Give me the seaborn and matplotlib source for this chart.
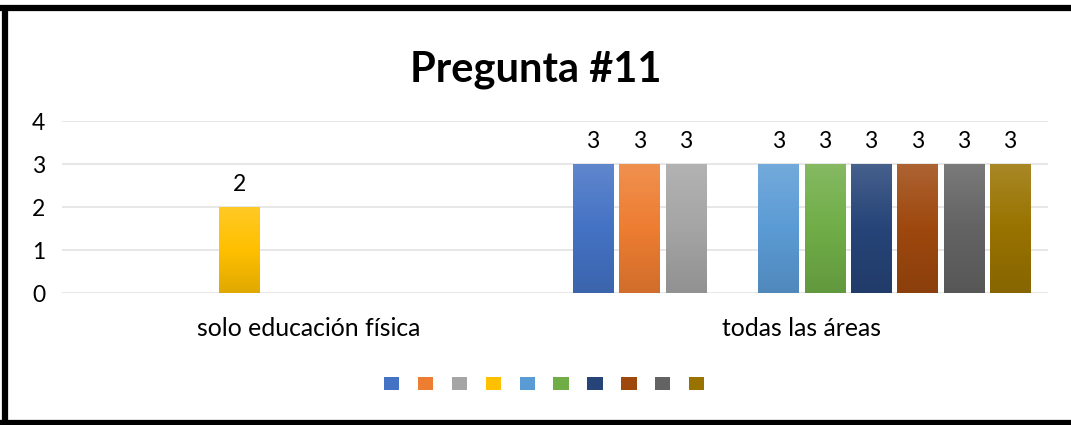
import matplotlib.pyplot as plt
import matplotlib.colors as mcolors
import numpy as np
import pandas as pd
import seaborn as sns
from matplotlib.lines import Line2D
from matplotlib.patches import Rectangle

# Datos del gráfico
categorias = ["solo educación física", "todas las áreas"]
series = ["Serie 1", "Serie 2", "Serie 3", "Serie 4", "Serie 5",
          "Serie 6", "Serie 7", "Serie 8", "Serie 9", "Serie 10"]
valores_solo = [None, None, None, 2, None, None, None, None, None, None]
valores_todas = [3, 3, 3, None, 3, 3, 3, 3, 3, 3]
colores = ["#4472C4", "#ED7D31", "#A5A5A5", "#FFC000", "#5B9BD5",
           "#70AD47", "#264478", "#9E480E", "#636363", "#997300"]

filas = []
for cat, vals in zip(categorias, [valores_solo, valores_todas]):
    for s, v in zip(series, vals):
        if v is not None:
            filas.append({"categoria": cat, "serie": s, "valor": v})
df = pd.DataFrame(filas)

sns.set_theme(style="white")
plt.rcParams["font.family"] = ["Lato", "DejaVu Sans"]

W, H = 1071, 425
fig = plt.figure(figsize=(W / 100 + 0.001, H / 100 + 0.001), dpi=100)
ax = fig.add_axes([0.0579, 0.3106, 0.9206, 0.4047])

sns.barplot(data=df, x="categoria", y="valor", hue="serie", order=categorias,
            hue_order=series, palette=colores, width=0.94, gap=0.136,
            errorbar=None, legend=False, ax=ax, zorder=3, linewidth=0)

# Degradado vertical en cada barra
presentes = [c for s, c in zip(series, colores) if s in set(df["serie"])]
for cont, col in zip(ax.containers, presentes):
    rgb = np.array(mcolors.to_rgb(col))
    arriba = rgb + (1 - rgb) * 0.15
    abajo = rgb * 0.88
    cmap = mcolors.LinearSegmentedColormap.from_list("g", [abajo, rgb, arriba])
    for p in cont.patches:
        x0, y0 = p.get_x(), p.get_y()
        w, h = p.get_width(), p.get_height()
        grad = np.linspace(0, 1, 100).reshape(-1, 1)
        im = ax.imshow(grad, extent=(x0, x0 + w, y0, y0 + h), origin="lower",
                       cmap=cmap, aspect="auto", zorder=3.5)
        im.set_clip_path(p)
    ax.bar_label(cont, fmt="%d", padding=9, fontsize=16.5, color="#000000")

ax.set_xlim(-0.5, 1.5)
ax.set_ylim(0, 4)
ax.set_yticks([0, 1, 2, 3, 4])
ax.grid(axis="y", color="#E3E3E3", linewidth=1.2, zorder=0)
for sp in ax.spines.values():
    sp.set_visible(False)
ax.tick_params(axis="y", length=0, pad=12, labelsize=16.5, labelcolor="#000000")
ax.tick_params(axis="x", length=0, pad=17, labelsize=17.8, labelcolor="#000000")
ax.set_xlabel("")
ax.set_ylabel("")

fig.text(0.5, 0.835, "Pregunta #11", ha="center", va="center",
         fontsize=30, fontweight="bold", color="#000000")

# Leyenda sin etiquetas
handles = [Rectangle((0, 0), 1, 1, facecolor=c, edgecolor="none") for c in colores]
fig.legend(handles, [""] * len(handles), loc="center", bbox_to_anchor=(0.508, 0.096),
           ncol=10, frameon=False, fontsize=11, handlelength=1.0, handleheight=1.0,
           handletextpad=0.0, columnspacing=1.22)

# Marco negro (abierto a la derecha)
for xs, ys in [((0, 1.01), (1 - 8 / H, 1 - 8 / H)),
               ((5 / W, 5 / W), (-0.01, 1 - 8 / H)),
               ((0, 1.01), (2 / H, 2 / H))]:
    fig.add_artist(Line2D(xs, ys, transform=fig.transFigure, color="black",
                          linewidth=4.5, solid_capstyle="butt"))

fig.savefig("out.png", dpi=100)
